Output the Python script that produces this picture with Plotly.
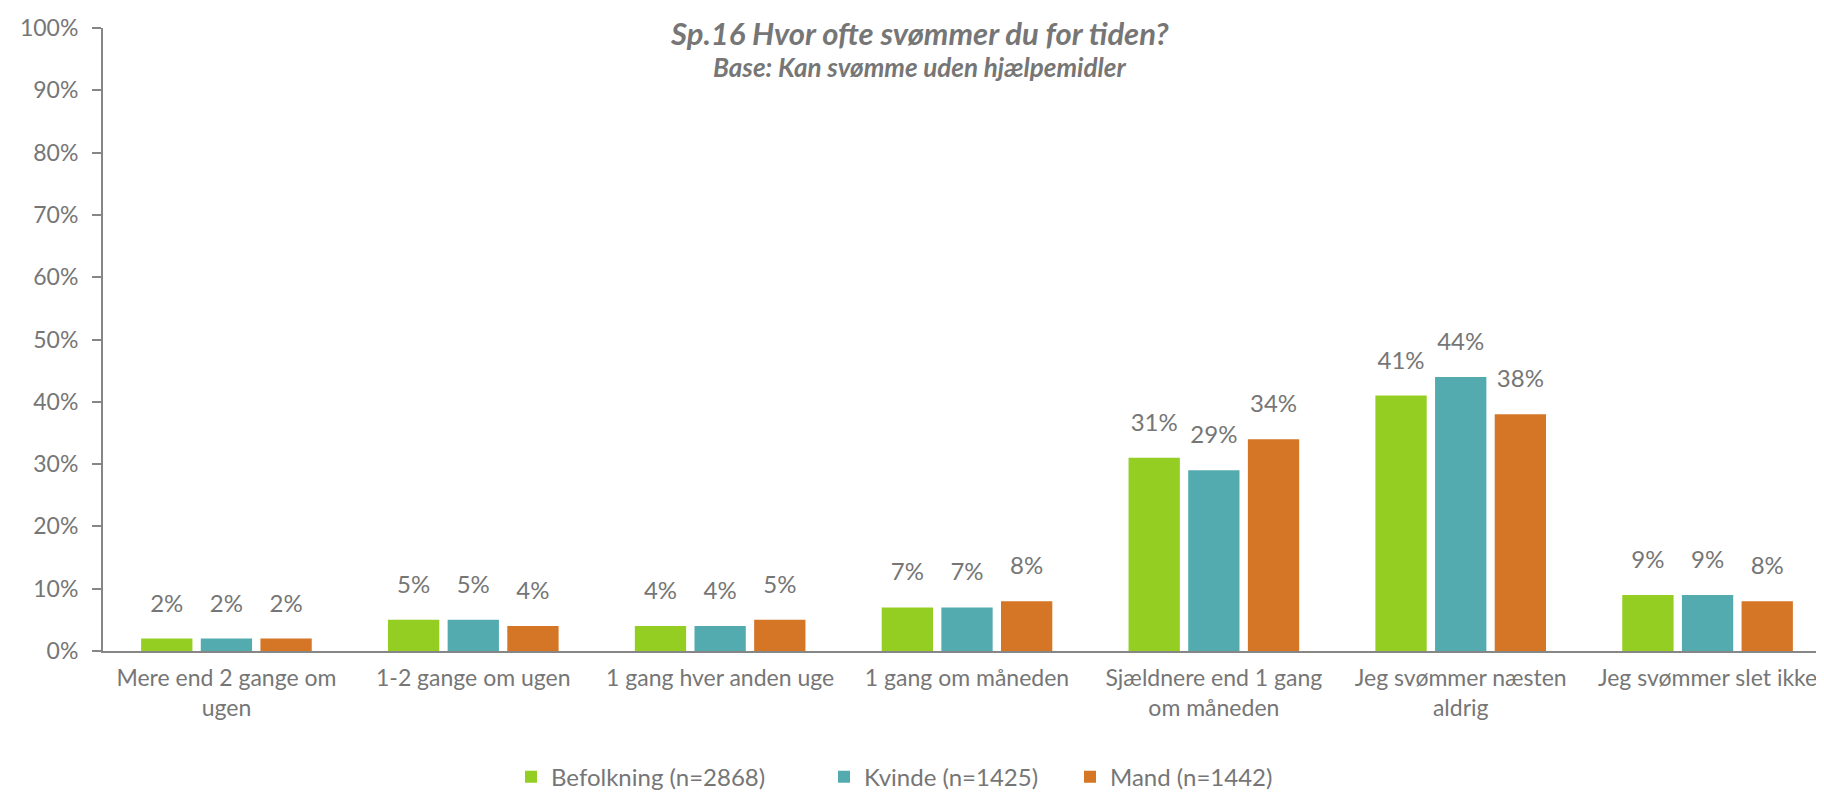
import plotly.graph_objects as go

categories = [
    "Mere end 2 gange om<br>ugen",
    "1-2 gange om ugen",
    "1 gang hver anden uge",
    "1 gang om måneden",
    "Sjældnere end 1 gang<br>om måneden",
    "Jeg svømmer næsten<br>aldrig",
    "Jeg svømmer slet ikke",
]
befolkning = [0.02, 0.05, 0.04, 0.07, 0.31, 0.41, 0.09]
kvinde = [0.02, 0.05, 0.04, 0.07, 0.29, 0.44, 0.09]
mand = [0.02, 0.04, 0.05, 0.08, 0.34, 0.38, 0.08]
series_names = ["Befolkning (n=2868)", "Kvinde (n=1425)", "Mand (n=1442)"]
colors = ["#95CE23", "#53ABB0", "#D47625"]
title_text = "Sp.16 Hvor ofte svømmer du for tiden?"
subtitle_text = "Base: Kan svømme uden hjælpemidler"

FONT = "Lato"
GRAY = "#767676"
AXIS = "#868686"

legend_ids = ["legend", "legend2", "legend3"]
legend_left_px = [503, 816, 1062]

fig = go.Figure()
for i, (name, vals, col) in enumerate(zip(series_names, [befolkning, kvinde, mand], colors)):
    fig.add_trace(go.Bar(
        x=categories, y=vals, name=name,
        marker=dict(color=col, line=dict(width=0)),
        offsetgroup=str(i), legend=legend_ids[i],
    ))
for i, vals in enumerate([befolkning, kvinde, mand]):
    fig.add_trace(go.Scatter(
        x=categories, y=vals, mode="markers+text",
        text=[f"{round(v * 100)}%" for v in vals],
        textposition="top center",
        textfont=dict(family=FONT, size=24, color=GRAY),
        marker=dict(size=32, color="rgba(0,0,0,0)"),
        offsetgroup=str(i), showlegend=False, hoverinfo="skip",
        cliponaxis=False,
    ))

layout_legends = {}
for lid, left in zip(legend_ids, legend_left_px):
    layout_legends[lid] = dict(
        orientation="h", xref="container", yref="container",
        x=left / 1824, xanchor="left", y=0.03, yanchor="middle",
        font=dict(family=FONT, size=24, color=GRAY),
        bgcolor="rgba(0,0,0,0)",
    )

fig.update_layout(
    width=1824, height=793,
    margin=dict(l=95, r=1, t=20, b=150, autoexpand=False),
    paper_bgcolor="white", plot_bgcolor="white",
    barmode="group", bargap=0.275, bargroupgap=0.14,
    scattermode="group", scattergap=0.275,
    font=dict(family=FONT, color=GRAY),
    showlegend=True,
    xaxis=dict(
        showline=True, linecolor=AXIS, linewidth=2,
        ticks="", showgrid=False, automargin=False,
        tickfont=dict(family=FONT, size=23, color=GRAY),
        ticklabelstandoff=5,
    ),
    yaxis=dict(
        range=[0, 1], dtick=0.1, tickformat=".0%",
        showline=True, linecolor=AXIS, linewidth=2,
        ticks="outside", ticklen=9, tickwidth=2, tickcolor=AXIS,
        showgrid=False, zeroline=False, automargin=False,
        tickfont=dict(family=FONT, size=23, color=GRAY),
        ticklabelstandoff=9,
    ),
    annotations=[
        dict(text="<b><i>" + title_text + "</i></b>", xref="paper", yref="paper",
             x=0.4728, y=(643 - 25) / 623, xanchor="center", yanchor="middle",
             showarrow=False, font=dict(family=FONT, size=31, color=GRAY)),
        dict(text="<b><i>" + subtitle_text + "</i></b>", xref="paper", yref="paper",
             x=0.4728, y=(643 - 59) / 623, xanchor="center", yanchor="middle",
             showarrow=False, font=dict(family=FONT, size=26, color=GRAY)),
    ],
    **layout_legends,
)

fig.write_html("out.html")
